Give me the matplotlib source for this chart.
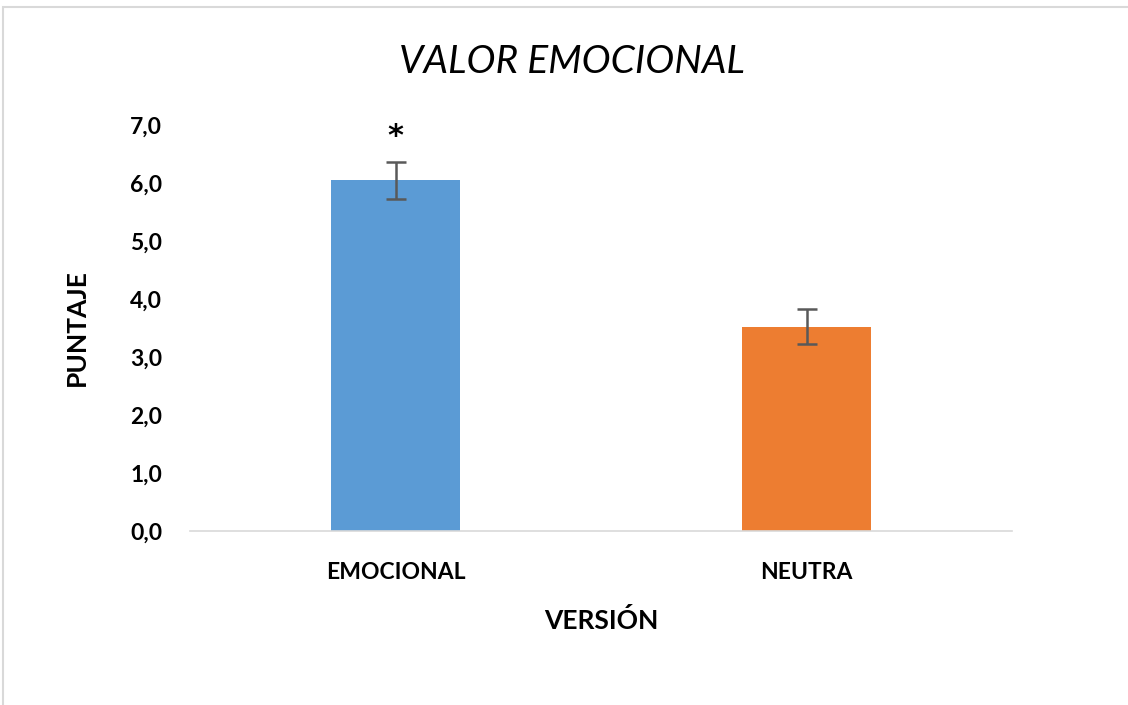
import matplotlib
matplotlib.use("Agg")
import matplotlib.pyplot as plt
from matplotlib.patches import Rectangle

categories = ["EMOCIONAL", "NEUTRA"]
values = [6.05, 3.52]
errors = [0.32, 0.30]
colors = ["#5B9BD5", "#ED7D31"]
yticks = [0, 1, 2, 3, 4, 5, 6, 7]
ytick_labels = ["0,0", "1,0", "2,0", "3,0", "4,0", "5,0", "6,0", "7,0"]
star_y = 6.80

plt.rcParams['font.family'] = ['Lato', 'DejaVu Sans']

fig = plt.figure(figsize=(11.28, 7.05), dpi=100)
fig.patch.set_facecolor("white")
# outer chart border
fig.add_artist(Rectangle((3/1128, -0.01), 1.1, 1 - 7/705 + 0.01, transform=fig.transFigure,
                         fill=False, edgecolor="#D9D9D9", linewidth=1.5))

ax = fig.add_axes([190/1128, 1 - 531/705, (1012 - 190)/1128, (531 - 125)/705])
x = range(len(categories))
ax.bar(x, values, width=0.314, color=colors, zorder=2)
ax.errorbar(x, values, yerr=errors, fmt="none", ecolor="#595959", elinewidth=1.8,
            capsize=7, capthick=1.8, zorder=3)
ax.text(0, star_y, "*", ha="center", va="center", fontsize=22, fontweight="bold",
        color="black", family="DejaVu Sans")

ax.set_xlim(-0.5, 1.5)
ax.set_ylim(0, 7)
ax.set_yticks(yticks)
ax.set_yticklabels(ytick_labels)
ax.set_xticks(list(x))
ax.set_xticklabels(categories)
for s in ["top", "right", "left"]:
    ax.spines[s].set_visible(False)
ax.spines["bottom"].set_color("#D9D9D9")
ax.spines["bottom"].set_linewidth(1.2)
ax.tick_params(axis="both", length=0, labelsize=16.5, labelcolor="black")
for lbl in ax.get_xticklabels() + ax.get_yticklabels():
    lbl.set_fontweight("bold")
ax.tick_params(axis="x", pad=22)
ax.tick_params(axis="y", pad=20)

ax.set_xlabel("VERSIÓN", fontsize=19, fontweight="bold", labelpad=18)
ax.set_ylabel("PUNTAJE", fontsize=19, fontweight="bold", labelpad=30)

fig.text(572/1128, 1 - 62/705, "VALOR EMOCIONAL", ha="center", va="center",
         fontsize=28, fontstyle="italic", color="black")

fig.savefig("out.png", dpi=100)
